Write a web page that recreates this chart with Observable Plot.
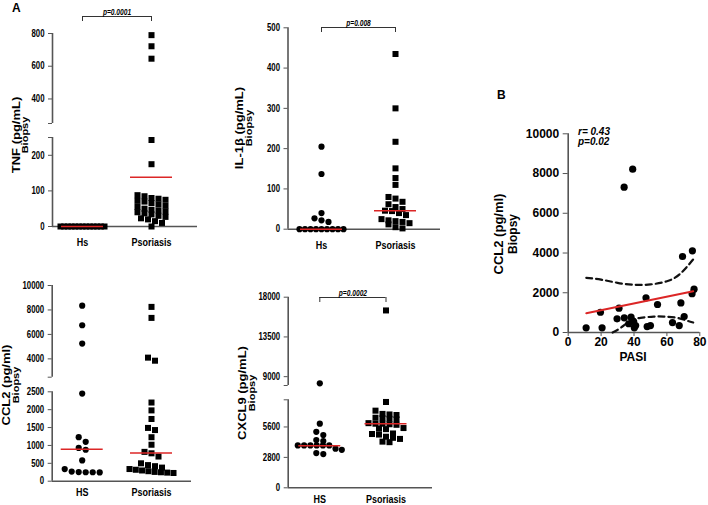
<!DOCTYPE html>
<html><head><meta charset="utf-8">
<script src="https://cdn.jsdelivr.net/npm/d3@7"></script>
<script src="https://cdn.jsdelivr.net/npm/@observablehq/plot@0.6"></script>
<style>
body{margin:0;background:#fff;}
#fig{position:relative;width:708px;height:505px;overflow:hidden;background:#fff;}
#fig svg{position:absolute;left:0;top:0;}
#fig svg text{fill:#000;}
</style></head><body><div id="fig"></div>
<script>
// ---------- data ----------
const catsTop = ["Hs", "Psoriasis"];
const catsBottom = ["HS", "Psoriasis"];

const tnfHs  = [0,0,0,0,0,0,0,0,0,0,0,0,0];
const tnfPso = [790,722,646,243,175,88,85,80,78,75,72,70,66,62,58,55,50,47,45,42,40,37,34,30,27,23,20,15,10,0];
const tnfLine = [0, 138];
const tnfTicksLow = [0,100,200];
const tnfTicksUp = [400,600,800];

const ilHs  = [205,137,40,27,22,18,0,0,0,0,0,0,0,0,0];
const ilPso = [435,300,217,151,127,110,80,76,68,62,55,50,46,45,40,35,25,22,20,18,15,12,5,2];
const ilLine = [0, 46];
const ilTicks = [0,100,200,300,400,500];

const ccHs  = [8350,6750,5250,2450,1230,1100,930,880,580,340,270,250,245,250,255];
const ccPso = [8250,7350,4100,3850,2200,1980,1740,1490,1430,1230,1020,820,780,690,500,450,420,380,340,320,300,280,260,250,240,230];
const ccLine = [890, 790];
const ccTicksLow = [0,500,1000,1500,2000,2500];
const ccTicksUp = [4000,6000,8000,10000];

const cxHs  = [8250,5900,5150,4850,4400,4300,3900,3900,3900,3900,3900,3900,3600,3500,3200,3100];
const cxPso = [16500,7900,7100,6800,6750,6700,6450,6400,6350,6300,5950,5900,5900,5850,5800,5500,5450,5400,5000,4950,4900,4700,4600,4500,4250,4200];
const cxLine = [3880, 5900];
const cxTicksLow = [0,2800,5600];
const cxTicksUp = [9000,13500,18000];

const pTexts = ["p=0.0001", "p=0.008", "p=0.0002"];

// Panel B
const pasi  = [10.9,19.6,20.6,29.7,30.9,34.0,34.1,36.8,38.2,39.2,39.8,40.2,41.0,47.3,48.0,50.0,54.3,63.4,67.5,68.5,69.5,70.5,75.3,75.5,76.5];
const ccl2B = [235,1020,235,690,1225,7313,740,440,770,8220,550,235,350,1745,300,350,1410,500,350,1490,3825,805,1950,4110,2180];
const fitX = [11, 76], fitY = [970, 2080];
const bandUpX = [11,20,30,40,50,60,68,76], bandUpY = [2750,2660,2500,2400,2420,2580,2950,3680];
const bandLoX = [27,32,38,44,52,58,66,72,76], bandLoY = [0,240,600,740,800,800,740,600,500];
const bTicksX = [0,20,40,60,80];
const bTicksY = [0,2000,4000,6000,8000,10000];
const statText = ["r= 0.43", "p=0.02"];

// ---------- rendering ----------
const W = 708, H = 505;
const SANS = "'Liberation Sans',Arial,Helvetica,sans-serif";
const RED = "#dc2626", AXIS = "#555";
const SQ = 0.78; // horizontal squeeze of panel A lettering
const fig = document.getElementById("fig");

function squeeze(svg, k) {
  svg.querySelectorAll("text").forEach(t => {
    const L = t.getComputedTextLength();
    if (L > 0) { t.setAttribute("textLength", L * k); t.setAttribute("lengthAdjust", "spacingAndGlyphs"); }
  });
}

function columnScatter(values, yPx, sym, maxW) {
  const pts = values.map(v => ({v, py: yPx(v)})).sort((a, b) => a.py - b.py);
  const rows = [];
  for (const p of pts) {
    const row = rows[rows.length - 1];
    if (row && p.py - row[0].py < sym * 0.85) row.push(p); else rows.push([p]);
  }
  for (const row of rows) {
    const n = row.length;
    const step = n > 1 ? Math.min(sym + 1, maxW / (n - 1)) : 0;
    row.forEach((p, k) => p.off = (k - (n - 1) / 2) * step);
  }
  return pts;
}

function dotPanel(P) {
  const sp = P.centers[1] - P.centers[0];
  const xDomain = [(P.axisX - P.centers[0]) / sp, (P.right - P.centers[0]) / sp];
  const hw = 21 / sp;
  const lowTop = P.segments[0].domain[1];
  P.segments.forEach((seg, si) => {
    const isLower = si === 0, isTop = si === P.segments.length - 1;
    const yPx = d3.scaleLinear(seg.domain, [seg.bottom, seg.top]);
    const marks = [Plot.ruleX([xDomain[0]], {stroke: AXIS, strokeWidth: 1.6})];
    if (isLower) marks.push(Plot.ruleY([seg.domain[0]], {stroke: AXIS, strokeWidth: 1.6}));
    P.series.forEach((vals, gi) => {
      const sub = vals.filter(v => isLower ? v <= lowTop : v > lowTop);
      const pts = columnScatter(sub, yPx, 6, 44).map(p => ({x: gi + p.off / sp, v: p.v}));
      const sq = P.symbols[gi] === "square";
      marks.push(Plot.dot(pts, {x: "x", y: "v", symbol: P.symbols[gi], r: sq ? 3.4 : 3.1, fill: "#000"}));
    });
    const med = P.lines.map((v, g) => ({g, v})).filter(d => isLower ? d.v <= lowTop : d.v > lowTop);
    marks.push(Plot.ruleY(med, {x1: d => d.g - hw, x2: d => d.g + hw, y: "v", stroke: RED, strokeWidth: 1.5}));
    if (isTop && P.bracket) {
      const lvl = yPx.invert(P.bracket.px), lvl2 = yPx.invert(P.bracket.px + 5);
      marks.push(Plot.ruleY([lvl], {x1: () => 0, x2: () => 1, stroke: "#333", strokeWidth: 1}));
      marks.push(Plot.ruleX([0, 1], {y1: () => lvl, y2: () => lvl2, stroke: "#333", strokeWidth: 1}));
      marks.push(Plot.text([P.bracket.text], {x: () => 0.5, y: () => lvl, text: d => d, dy: -2, lineAnchor: "bottom",
        fontFamily: SANS, fontSize: 8.5, fontStyle: "italic", fontWeight: "bold", fill: "#000"}));
    }
    if (isLower) marks.push(Plot.text(P.cats, {x: (d, i) => i, y: () => seg.domain[0], text: d => d,
      lineAnchor: "top", dy: P.catDy, fontFamily: SANS, fontSize: 11.5, fontWeight: "bold", fill: "#000"}));
    const svg = Plot.plot({
      width: W, height: H,
      marginLeft: P.axisX, marginRight: W - P.right, marginTop: seg.top, marginBottom: H - seg.bottom,
      x: {domain: xDomain, axis: null},
      y: {domain: seg.domain, ticks: seg.ticks, tickFormat: d => seg.labels.includes(d) ? String(d) : "",
          tickSize: 4, tickPadding: 4, label: null},
      style: {background: "transparent", fontFamily: SANS, fontSize: "10px", fontWeight: "bold", color: AXIS, overflow: "visible"},
      marks
    });
    fig.appendChild(svg);
    squeeze(svg, SQ);
  });
}

dotPanel({
  axisX: 52, right: 197, centers: [82, 151], cats: catsTop, catDy: 11,
  series: [tnfHs, tnfPso], symbols: ["square", "square"], lines: tnfLine,
  segments: [
    {domain: [0, 250], bottom: 226, top: 137, ticks: [...tnfTicksLow, 250], labels: tnfTicksLow},
    {domain: [250, 800], bottom: 123, top: 33, ticks: [250, ...tnfTicksUp], labels: tnfTicksUp}
  ],
  bracket: {px: 16, text: pTexts[0]}
});
dotPanel({
  axisX: 287.5, right: 440, centers: [321, 395], cats: catsTop, catDy: 12,
  series: [ilHs, ilPso], symbols: ["circle", "square"], lines: ilLine,
  segments: [{domain: [0, 500], bottom: 228.7, top: 27.3, ticks: ilTicks, labels: ilTicks}],
  bracket: {px: 27, text: pTexts[1]}
});
dotPanel({
  axisX: 51.7, right: 191, centers: [81.7, 151], cats: catsBottom, catDy: 6.5,
  series: [ccHs, ccPso], symbols: ["circle", "square"], lines: ccLine,
  segments: [
    {domain: [0, 2500], bottom: 480.7, top: 391.3, ticks: ccTicksLow, labels: ccTicksLow},
    {domain: [2500, 10000], bottom: 376.7, top: 285, ticks: [2500, ...ccTicksUp], labels: ccTicksUp}
  ]
});
dotPanel({
  axisX: 287.7, right: 432, centers: [319.3, 385.5], cats: catsBottom, catDy: 7.5,
  series: [cxHs, cxPso], symbols: ["circle", "square"], lines: cxLine,
  segments: [
    {domain: [0, 8100], bottom: 487.3, top: 399.3, ticks: [...cxTicksLow, 8100], labels: cxTicksLow},
    {domain: [8000, 18000], bottom: 385, top: 296.7, ticks: [8000, ...cxTicksUp], labels: cxTicksUp}
  ],
  bracket: {px: 297, text: pTexts[2]}
});

// Panel B
const bPts = pasi.map((x, i) => ({x, y: ccl2B[i]}));
fig.appendChild(Plot.plot({
  width: W, height: H,
  marginLeft: 567.7, marginRight: W - 699.3, marginTop: 133.3, marginBottom: H - 332,
  x: {domain: [0, 80], ticks: bTicksX, tickSize: 4, tickPadding: 1, tickFormat: String, label: null},
  y: {domain: [0, 10000], ticks: bTicksY, tickSize: 5, tickPadding: 4, tickFormat: String, label: null},
  style: {background: "transparent", fontFamily: SANS, fontSize: "12px", fontWeight: "bold", color: AXIS, overflow: "visible"},
  marks: [
    Plot.ruleX([0], {stroke: AXIS, strokeWidth: 1.6}),
    Plot.ruleY([0], {stroke: AXIS, strokeWidth: 1.6}),
    Plot.line(bandUpX.map((x, i) => ({x, y: bandUpY[i]})), {x: "x", y: "y", curve: "natural", stroke: "#111", strokeWidth: 2.2, strokeDasharray: "6,4"}),
    Plot.line(bandLoX.map((x, i) => ({x, y: bandLoY[i]})), {x: "x", y: "y", curve: "natural", stroke: "#111", strokeWidth: 2.2, strokeDasharray: "6,4"}),
    Plot.dot(bPts, {x: "x", y: "y", r: 3.6, fill: "#000"}),
    Plot.line(fitX.map((x, i) => ({x, y: fitY[i]})), {x: "x", y: "y", stroke: RED, strokeWidth: 2})
  ]
}));

// ---------- titles & labels ----------
const ann = d3.select(fig).append("svg").attr("width", W).attr("height", H)
  .style("font-family", SANS).style("font-weight", "bold");
ann.append("text").attr("x", 12).attr("y", 11.5).attr("font-size", 12).text("A");
ann.append("text").attr("x", 497).attr("y", 99).attr("font-size", 12).text("B");
function ytitle(x1, x2, cy, t1, t2, s1, s2, k) {
  ann.append("text").attr("transform", `translate(${x1},${cy}) rotate(-90) scale(1,${k})`).attr("text-anchor", "middle").attr("font-size", s1).text(t1);
  ann.append("text").attr("transform", `translate(${x2},${cy}) rotate(-90) scale(1,${k})`).attr("text-anchor", "middle").attr("font-size", s2).text(t2);
}
ytitle(19.5, 28, 135, "TNF (pg/mL)", "Biopsy", 13, 11, 0.9);
ytitle(242.5, 251.5, 128, "IL-1β (pg/mL)", "Biopsy", 13, 11, 0.9);
ytitle(10, 19, 385, "CCL2 (pg/ml)", "Biopsy", 13, 11, 0.9);
ytitle(246, 255, 393, "CXCL9 (pg/mL)", "Biopsy", 13, 11, 0.9);
ytitle(502.5, 516.5, 234, "CCL2 (pg/ml)", "Biopsy", 13, 12, 1);
ann.append("text").attr("x", 633).attr("y", 361).attr("text-anchor", "middle").attr("font-size", 12).text("PASI");
ann.append("text").attr("x", 578).attr("y", 134.5).attr("font-size", 10).attr("font-style", "italic").text(statText[0]);
ann.append("text").attr("x", 578).attr("y", 145).attr("font-size", 10).attr("font-style", "italic").text(statText[1]);
</script></body></html>
